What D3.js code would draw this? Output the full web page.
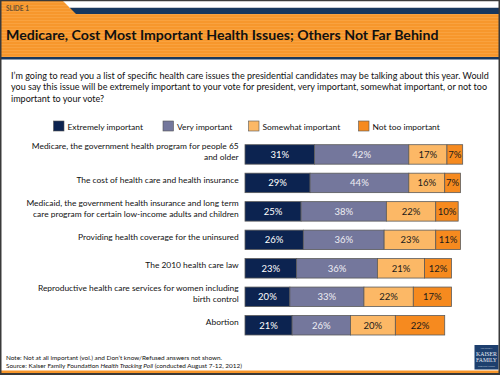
<!DOCTYPE html>
<html>
<head>
<meta charset="utf-8">
<script src="https://cdn.jsdelivr.net/npm/d3@7"></script>
<style>
  body { margin: 0; background: #fff; }
  svg { display: block; font-family: Lato, "Open Sans", sans-serif; }
</style>
</head>
<body>
<div id="chart"></div>
<script>
// Data
const categories = [
    ["Medicare, the government health program for people 65", "and older"],
    ["The cost of health care and health insurance"],
    ["Medicaid, the government health insurance and long term", "care program for certain low-income adults and children"],
    ["Providing health coverage for the uninsured"],
    ["The 2010 health care law"],
    ["Reproductive health care services for women including", "birth control"],
    ["Abortion"]
];
const extremely = [31, 29, 25, 26, 23, 20, 21];
const very      = [42, 44, 38, 36, 36, 33, 26];
const somewhat  = [17, 16, 22, 23, 21, 22, 20];
const notToo    = [7, 7, 10, 11, 12, 17, 22];
const seriesNames = ["Extremely important", "Very important", "Somewhat important", "Not too important"];
const colors = ["#0c2350", "#74779c", "#fcb866", "#f68a1f"];
const labelColors = ["#ffffff", "#eeeef4", "#1a1a1a", "#1a1a1a"];

const title = "Medicare, Cost Most Important Health Issues; Others Not Far Behind";
const question = [
    "I\u2019m going to read you a list of specific health care issues the presidential candidates may be talking about this year. Would",
    "you say this issue will be extremely important to your vote for president, very important, somewhat important, or not too",
    "important to your vote?"
];

const W = 500, H = 375;
const svg = d3.select("#chart").append("svg")
    .attr("width", W).attr("height", H);

// shrink/grow font so the text spans a given width
function fitWidth(sel, target) {
    const node = sel.node();
    const fs = parseFloat(sel.attr("font-size"));
    const w = node.getComputedTextLength();
    const nfs = fs * target / w;
    sel.attr("font-size", nfs);
    return nfs;
}

// Header
const defs = svg.append("defs");
const pat = defs.append("pattern")
    .attr("id", "stripes")
    .attr("width", 6).attr("height", 3)
    .attr("patternUnits", "userSpaceOnUse");
pat.append("rect").attr("width", 6).attr("height", 3).attr("fill", "#f7972c");
pat.append("rect").attr("y", 2).attr("width", 6).attr("height", 1).attr("fill", "#f9a23f");

svg.append("rect").attr("x", 0).attr("y", 0).attr("width", W).attr("height", 58)
    .attr("fill", "url(#stripes)");
// white strip + navy band to the right of the tab
svg.append("path")
    .attr("d", "M62,0 L500,0 L500,8 L70,8 Z")
    .attr("fill", "#ffffff");
svg.append("path")
    .attr("d", "M70,8 L500,8 L500,14 L76,14 Z")
    .attr("fill", "#17375e");
svg.append("line").attr("x1", 69).attr("x2", 500).attr("y1", 7.5).attr("y2", 7.5)
    .attr("stroke", "#c8ccd2").attr("stroke-width", 1);
svg.append("rect").attr("x", 0).attr("y", 57).attr("width", W).attr("height", 2.5)
    .attr("fill", "#17375e");

svg.append("text")
    .attr("x", 6).attr("y", 11)
    .attr("font-size", 6.5).attr("font-weight", "bold")
    .attr("fill", "#6b5233")
    .text("SLIDE 1");

const titleText = svg.append("text")
    .attr("x", 6).attr("y", 40)
    .attr("font-size", 14).attr("font-weight", "bold")
    .attr("fill", "#111")
    .text(title);
fitWidth(titleText, 433);

// Question
const qLines = svg.append("g").selectAll("text")
    .data(question)
    .join("text")
    .attr("x", 11)
    .attr("y", (d, i) => 79 + i * 11.3)
    .attr("font-size", 10)
    .attr("fill", "#111")
    .text(d => d);
const qfs = fitWidth(d3.select(qLines.nodes()[0]), 478);
qLines.attr("font-size", qfs);

// Legend
const legendX = [53.5, 163, 248.5, 358.5];
const legend = svg.append("g").selectAll("g")
    .data(seriesNames)
    .join("g")
    .attr("transform", (d, i) => `translate(${legendX[i]}, 121)`);
legend.append("rect")
    .attr("width", 10.5).attr("height", 10)
    .attr("fill", (d, i) => colors[i])
    .attr("stroke", "#555").attr("stroke-width", 0.6);
const legendText = legend.append("text")
    .attr("x", 14).attr("y", 8.5)
    .attr("font-size", 9.5)
    .attr("fill", "#111")
    .text(d => d);
const lfs = fitWidth(d3.select(legendText.nodes()[0]), 75.6);
legendText.attr("font-size", lfs);

// Scales
const x = d3.scaleLinear().domain([0, 100]).range([245, 469.4]);
const y = d3.scaleBand()
    .domain(d3.range(categories.length))
    .range([144.7, 335])
    .paddingInner(0.316)
    .paddingOuter(0);

const rows = categories.map((c, i) => {
    const vals = [extremely[i], very[i], somewhat[i], notToo[i]];
    let cum = 0;
    return vals.map((v, k) => {
        const seg = { row: i, k, v, x0: cum, x1: cum + v };
        cum += v;
        return seg;
    });
});

// Bars
const barG = svg.append("g");
barG.selectAll("rect")
    .data(rows.flat())
    .join("rect")
    .attr("x", d => x(d.x0))
    .attr("y", d => y(d.row))
    .attr("width", d => x(d.x1) - x(d.x0))
    .attr("height", y.bandwidth())
    .attr("fill", d => colors[d.k])
    .attr("stroke", "#5a5a5a")
    .attr("stroke-width", 0.8);

barG.selectAll("text")
    .data(rows.flat())
    .join("text")
    .attr("x", d => (x(d.x0) + x(d.x1)) / 2)
    .attr("y", d => y(d.row) + y.bandwidth() / 2)
    .attr("dy", "0.35em")
    .attr("text-anchor", "middle")
    .attr("font-size", 9.5)
    .attr("fill", d => labelColors[d.k])
    .text(d => d.v + "%");

// Category labels
const catG = svg.append("g").selectAll("text")
    .data(categories)
    .join("text")
    .attr("text-anchor", "end")
    .attr("font-size", 10)
    .attr("fill", "#111")
    .attr("y", (d, i) => y(i) + y.bandwidth() / 2 - (d.length - 1) * 5.35)
    .attr("dy", "0.35em");
catG.selectAll("tspan")
    .data(d => d)
    .join("tspan")
    .attr("x", 238.7)
    .attr("dy", (d, i) => i === 0 ? 0 : 10.7)
    .text(d => d);
const probe = svg.append("text").attr("font-size", 10).text(categories[1][0]);
const cfs = fitWidth(probe, 162.7);
probe.remove();
catG.attr("font-size", cfs);

// Notes
const noteG = svg.append("g");
const note1 = noteG.append("text")
    .attr("x", 6).attr("y", 359.5)
    .attr("font-size", 7).attr("fill", "#111")
    .text("Note: Not at all important (vol.) and Don\u2019t know/Refused answers not shown.");
const nfs = fitWidth(note1, 216.7);
const note2 = noteG.append("text")
    .attr("x", 6).attr("y", 368.3)
    .attr("font-size", nfs).attr("fill", "#111");
note2.append("tspan").text("Source: Kaiser Family Foundation ");
note2.append("tspan").attr("font-style", "italic").text("Health Tracking Poll");
note2.append("tspan").text(" (conducted August 7-12, 2012)");

// Logo
const logo = svg.append("g").attr("transform", "translate(474.5, 345)");
logo.append("rect").attr("width", 24).attr("height", 24.5).attr("fill", "#1d3f6e");
const logoLines = [["THE HENRY J.", 3.5, 2.8, 12], ["KAISER", 10.5, 6, 21], ["FAMILY", 16.8, 6, 21], ["FOUNDATION", 21.5, 2.8, 17]];
logo.selectAll("text")
    .data(logoLines)
    .join("text")
    .attr("x", 12)
    .attr("y", d => d[1])
    .attr("text-anchor", "middle")
    .attr("font-family", "'Liberation Serif', 'DejaVu Serif', serif")
    .attr("font-size", d => d[2])
    .attr("textLength", d => d[3])
    .attr("lengthAdjust", "spacingAndGlyphs")
    .attr("fill", "#e8edf5")
    .text(d => d[0]);

// Footer line and frame
svg.append("rect").attr("x", 0).attr("y", 370.5).attr("width", W).attr("height", 2.5)
    .attr("fill", "#f7962b");
svg.append("rect").attr("x", 0).attr("y", 373).attr("width", W).attr("height", 2)
    .attr("fill", "#3a3a3a");
svg.append("rect").attr("x", 0.75).attr("y", 0.5).attr("width", W - 1.5).attr("height", H - 1)
    .attr("fill", "none").attr("stroke", "#3a3a3a").attr("stroke-width", 1.5);
</script>
</body>
</html>
